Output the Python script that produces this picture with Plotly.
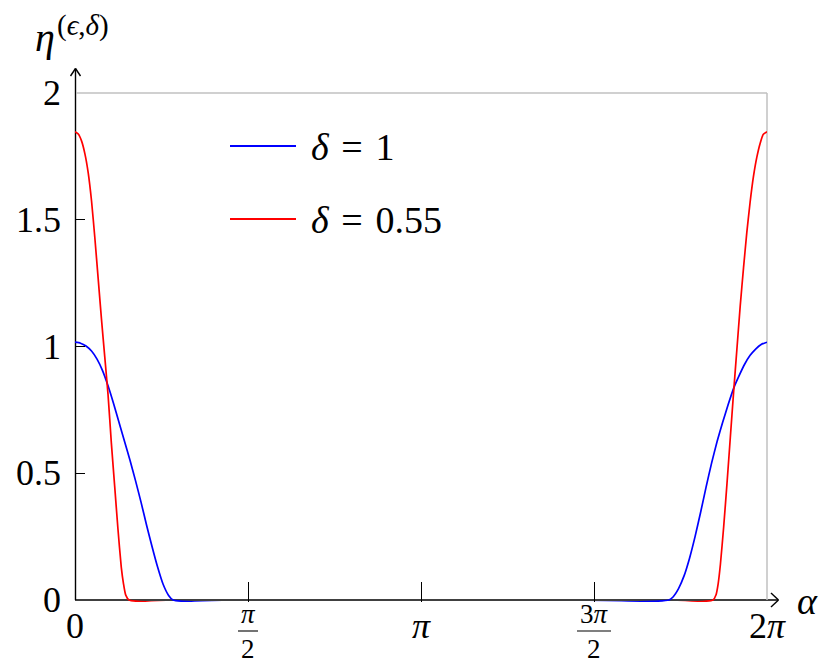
import math
import plotly.graph_objects as go

# readings of the two curves (alpha in radians, eta)
alpha_d1 = [0.0, 0.05, 0.10, 0.15, 0.20, 0.25, 0.30, 0.35, 0.40, 0.45, 0.50, 0.55,
            0.60, 0.65, 0.70, 0.75, 0.80, 0.85, 0.89,
            5.393, 5.43, 5.48, 5.53, 5.58, 5.63, 5.68, 5.73, 5.78, 5.83, 5.88,
            5.93, 5.98, 6.03, 6.08, 6.13, 6.18, 6.23, 2 * math.pi]
eta_d1 = [1.017, 1.013, 1.002, 0.982, 0.950, 0.905, 0.845, 0.775, 0.700, 0.625, 0.550,
          0.470, 0.385, 0.295, 0.210, 0.130, 0.062, 0.018, 0.0,
          0.0, 0.012, 0.045, 0.095, 0.165, 0.250, 0.345, 0.445, 0.540, 0.625, 0.700,
          0.770, 0.835, 0.885, 0.930, 0.965, 0.990, 1.008, 1.017]

alpha_d055 = [0.0, 0.03, 0.06, 0.09, 0.12, 0.15, 0.18, 0.21, 0.24, 0.27, 0.30, 0.33,
              0.36, 0.39, 0.42, 0.44, 0.46, 0.49,
              5.794, 5.82, 5.84, 5.86, 5.89, 5.92, 5.95, 5.98, 6.01, 6.04, 6.07,
              6.10, 6.13, 6.16, 6.19, 6.22, 6.25, 2 * math.pi]
eta_d055 = [1.847, 1.838, 1.810, 1.760, 1.685, 1.575, 1.430, 1.270, 1.110, 0.960, 0.810,
            0.620, 0.450, 0.280, 0.130, 0.065, 0.020, 0.0,
            0.0, 0.020, 0.065, 0.140, 0.290, 0.460, 0.640, 0.820, 0.990, 1.160, 1.310,
            1.450, 1.570, 1.670, 1.745, 1.800, 1.837, 1.847]

x_tickvals = [0, math.pi / 2, math.pi, 3 * math.pi / 2, 2 * math.pi]
x_ticknum = ["0", "<i>π</i>", "<i>π</i>", "3<i>π</i>", "2<i>π</i>"]
x_tickden = [None, "2", None, "2", None]
y_tickvals = [0, 0.5, 1, 1.5, 2]
y_ticktext = ["0", "0.5", "1", "1.5", "2"]

series = [
    ("<i>δ</i>\u200a = \u200a1", alpha_d1, eta_d1, "#0000ff"),
    ("<i>δ</i>\u200a = \u200a0.55", alpha_d055, eta_d055, "#ff0000"),
]

W, H = 831, 672
OFF = 8  # page body margin
L, R, T, B = 75 - OFF, 72, 93 - OFF, 78
PW, PH = W - L - R, H - T - B
BOT = H - B + OFF  # page pixel of plot bottom
LEFT = L + OFF
YPAD = 2 / 253.5  # keeps y=0 one line-width above the plot edge

def px(X):
    return (X - LEFT) / PW

def py(Y):
    return (BOT - Y) / PH

FONT = "Liberation Serif"
fig = go.Figure()

for name, xs, ys, col in series:
    fig.add_trace(go.Scatter(x=xs, y=ys, mode="lines", name=name,
                             line=dict(color=col, width=1.7, shape="spline", smoothing=0.5),
                             showlegend=False))

shapes = []
line_k = dict(color="black", width=1.4)
y0 = py(600)
# x axis with open arrow head
shapes.append(dict(type="line", xref="paper", yref="paper", x0=0, x1=px(778), y0=y0, y1=y0,
                   line=line_k, layer="below"))
shapes.append(dict(type="line", xref="paper", yref="paper", x0=px(771), x1=px(778.5),
                   y0=py(593), y1=y0, line=line_k))
shapes.append(dict(type="line", xref="paper", yref="paper", x0=px(771), x1=px(778.5),
                   y0=py(607), y1=y0, line=line_k))
# y axis with open arrow head
shapes.append(dict(type="line", xref="paper", yref="paper", x0=px(75.5), x1=px(75.5),
                   y0=y0, y1=py(68.5), line=line_k, layer="below"))
shapes.append(dict(type="line", xref="paper", yref="paper", x0=px(70.5), x1=px(75.5),
                   y0=py(76), y1=py(68.5), line=line_k))
shapes.append(dict(type="line", xref="paper", yref="paper", x0=px(80.5), x1=px(75.5),
                   y0=py(76), y1=py(68.5), line=line_k))
# grey frame top and right
grey = dict(color="#c0c0c0", width=1.5)
shapes.append(dict(type="line", xref="paper", yref="paper", x0=px(76), x1=px(767),
                   y0=1, y1=1, line=grey, layer="below"))
shapes.append(dict(type="line", xref="paper", yref="paper", x0=px(767), x1=px(767),
                   y0=1, y1=y0, line=grey, layer="below"))

annotations = []
# x tick labels
for v, num, den in zip(x_tickvals, x_ticknum, x_tickden):
    if den is None:
        annotations.append(dict(x=v, y=py(626), xref="x", yref="paper", text=num,
                                showarrow=False, font=dict(family=FONT, size=36, color="black"),
                                xanchor="center", yanchor="middle"))
    else:
        annotations.append(dict(x=v, y=py(630.5), xref="x", yref="paper", text=num,
                                showarrow=False, font=dict(family=FONT, size=27, color="black"),
                                xanchor="center", yanchor="bottom"))
        annotations.append(dict(x=v, y=py(631.5), xref="x", yref="paper", text=den,
                                showarrow=False, font=dict(family=FONT, size=27, color="black"),
                                xanchor="center", yanchor="top"))
        half = 10 if num == "<i>π</i>" else 17
        xc = LEFT + PW * v / (2 * math.pi)
        shapes.append(dict(type="line", xref="paper", yref="paper", x0=px(xc - half),
                           x1=px(xc + half), y0=py(631), y1=py(631),
                           line=dict(color="black", width=1.1)))
# y tick labels
for v, t in zip(y_tickvals, y_ticktext):
    annotations.append(dict(x=px(63), y=v, xref="paper", yref="y", text=t,
                            showarrow=False, font=dict(family=FONT, size=36, color="black"),
                            xanchor="right", yanchor="middle"))
# axis titles
annotations.append(dict(x=px(795), y=py(601), xref="paper", yref="paper", text="<i>α</i>",
                        showarrow=False, font=dict(family=FONT, size=38, color="black"),
                        xanchor="left", yanchor="middle"))
annotations.append(dict(x=px(33), y=py(38), xref="paper", yref="paper", text="<i>η</i>",
                        showarrow=False, font=dict(family=FONT, size=40, color="black"),
                        xanchor="left", yanchor="middle"))
annotations.append(dict(x=px(55), y=py(25), xref="paper", yref="paper",
                        text="(<i>ϵ</i>,<i>δ</i>)",
                        showarrow=False, font=dict(family=FONT, size=29, color="black"),
                        xanchor="left", yanchor="middle"))
# legend drawn by hand
for i, (name, _, _, col) in enumerate(series):
    ly = 146 + 73 * i
    shapes.append(dict(type="line", xref="paper", yref="paper", x0=px(230), x1=px(296),
                       y0=py(ly), y1=py(ly), line=dict(color=col, width=2.2)))
    annotations.append(dict(x=px(309), y=py(ly + 1), xref="paper", yref="paper",
                            text=name, showarrow=False,
                            font=dict(family=FONT, size=38, color="black"),
                            xanchor="left", yanchor="middle"))

fig.update_layout(
    width=W, height=H,
    margin=dict(l=L, r=R, t=T, b=B),
    plot_bgcolor="white", paper_bgcolor="white",
    showlegend=False,
    shapes=shapes,
    annotations=annotations,
    xaxis=dict(range=[0, 2 * math.pi], showgrid=False, zeroline=False, showline=False,
               tickvals=x_tickvals[1:4], ticks="inside", ticklen=20, tickwidth=1.3,
               tickcolor="black", showticklabels=False),
    yaxis=dict(range=[-YPAD, 2], showgrid=False, zeroline=False, showline=False,
               tickvals=y_tickvals[1:4], ticks="inside", ticklen=10, tickwidth=1.3,
               tickcolor="black", showticklabels=False),
)

fig.write_html("out.html")
